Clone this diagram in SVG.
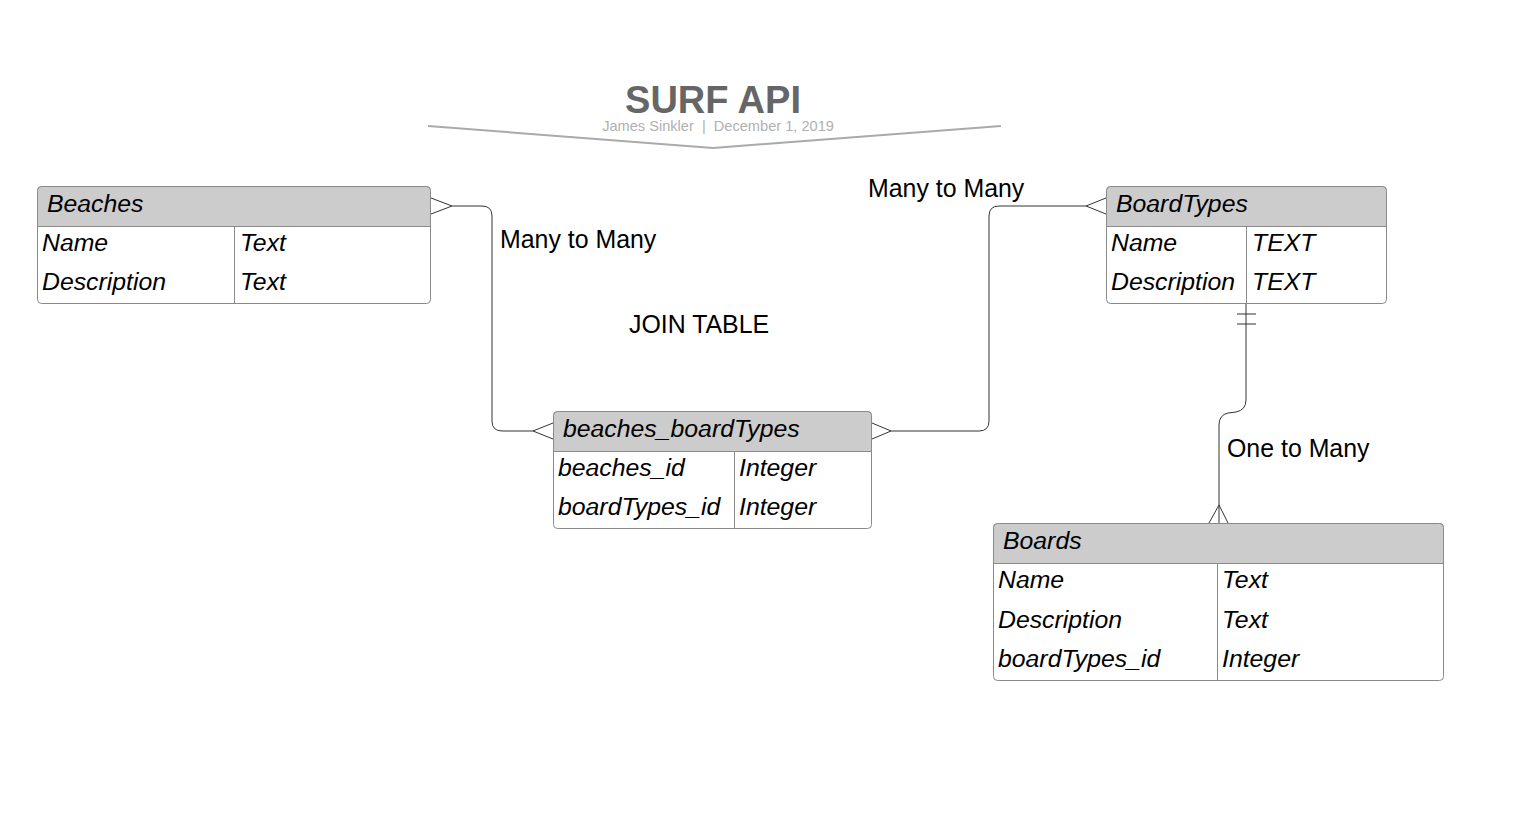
<svg xmlns="http://www.w3.org/2000/svg" width="1537" height="822" viewBox="0 0 1537 822">
<style>
.box{fill:#fff;stroke:#8a8a8a;stroke-width:1}
.hdr{fill:#cccccc;stroke:#8a8a8a;stroke-width:1}
.div{stroke:#8a8a8a;stroke-width:1}
.t{font-family:"Liberation Sans",Arial,sans-serif;font-size:24.8px;font-style:italic;fill:#000}
.lbl{font-family:"Liberation Sans",Arial,sans-serif;font-size:24.9px;fill:#000}
.conn{fill:none;stroke:#333;stroke-width:1}
</style>
<rect width="1537" height="822" fill="#fff"/>
<g id="title">
<text x="713" y="113" text-anchor="middle" font-family="Liberation Sans,Arial,sans-serif" font-size="38" font-weight="bold" fill="#666">SURF API</text>
<text x="718" y="131" text-anchor="middle" font-family="Liberation Sans,Arial,sans-serif" font-size="14.6" fill="#b0b0b0" xml:space="preserve">James Sinkler  |  December 1, 2019</text>
<polyline points="428,126 713,148 1001,126" fill="none" stroke="#aaa" stroke-width="2"/>
</g>
<g id="connectors">
<path class="conn" d="M452,206 H482 Q492,206 492,216 V421 Q492,431 502,431 H533"/>
<path class="conn" d="M431,198 L452,206 L431,214"/>
<path class="conn" d="M553,423 L533,431 L553,439"/>
<path class="conn" d="M891,431 H979 Q989,431 989,421 V216 Q989,206 999,206 H1086"/>
<path class="conn" d="M872,423 L891,431 L872,439"/>
<path class="conn" d="M1106,198 L1086,206 L1106,214"/>
<path class="conn" d="M1246,304 V400 Q1246,410 1236,412 L1228,413 Q1219,415 1219,425 V523"/>
<path class="conn" d="M1237,314 H1256 M1237,324 H1256"/>
<path class="conn" d="M1209,523 L1219,505 L1228,523"/>
</g>
<g id="labels">
<text class="lbl" x="500" y="248">Many to Many</text>
<text class="lbl" x="868" y="197">Many to Many</text>
<text class="lbl" x="629" y="333">JOIN TABLE</text>
<text class="lbl" x="1227" y="457">One to Many</text>
</g>
<g id="beaches">
<rect class="box" x="37.5" y="186.5" width="393" height="117" rx="4"/>
<path class="hdr" d="M41.5,186.5 H426.5 Q430.5,186.5 430.5,190.5 V226.5 H37.5 V190.5 Q37.5,186.5 41.5,186.5 Z"/>
<line class="div" x1="234.5" y1="226.5" x2="234.5" y2="303.5"/>
<text class="t" x="47" y="212">Beaches</text>
<text class="t" x="42" y="251">Name</text>
<text class="t" x="240" y="251">Text</text>
<text class="t" x="42" y="290">Description</text>
<text class="t" x="240" y="290">Text</text>
</g>
<g id="beaches_boardTypes">
<rect class="box" x="553.5" y="411.5" width="318" height="117" rx="4"/>
<path class="hdr" d="M557.5,411.5 H867.5 Q871.5,411.5 871.5,415.5 V451.5 H553.5 V415.5 Q553.5,411.5 557.5,411.5 Z"/>
<line class="div" x1="734.5" y1="451.5" x2="734.5" y2="528.5"/>
<text class="t" x="563" y="437">beaches_boardTypes</text>
<text class="t" x="558" y="476">beaches_id</text>
<text class="t" x="739" y="476">Integer</text>
<text class="t" x="558" y="515">boardTypes_id</text>
<text class="t" x="739" y="515">Integer</text>
</g>
<g id="boardTypes">
<rect class="box" x="1106.5" y="186.5" width="280" height="117" rx="4" stroke="#333"/>
<path class="hdr" d="M1110.5,186.5 H1382.5 Q1386.5,186.5 1386.5,190.5 V226.5 H1106.5 V190.5 Q1106.5,186.5 1110.5,186.5 Z" stroke="#333"/>
<line class="div" x1="1246.5" y1="226.5" x2="1246.5" y2="303.5" stroke="#333"/>
<text class="t" x="1116" y="212">BoardTypes</text>
<text class="t" x="1111" y="251">Name</text>
<text class="t" x="1252" y="251">TEXT</text>
<text class="t" x="1111" y="290">Description</text>
<text class="t" x="1252" y="290">TEXT</text>
</g>
<g id="boards">
<rect class="box" x="993.5" y="523.5" width="450" height="157" rx="4"/>
<path class="hdr" d="M997.5,523.5 H1439.5 Q1443.5,523.5 1443.5,527.5 V563.5 H993.5 V527.5 Q993.5,523.5 997.5,523.5 Z"/>
<line class="div" x1="1217.5" y1="563.5" x2="1217.5" y2="680.5"/>
<text class="t" x="1003" y="549">Boards</text>
<text class="t" x="998" y="588">Name</text>
<text class="t" x="1222" y="588">Text</text>
<text class="t" x="998" y="628">Description</text>
<text class="t" x="1222" y="628">Text</text>
<text class="t" x="998" y="667">boardTypes_id</text>
<text class="t" x="1222" y="667">Integer</text>
</g>
</svg>
